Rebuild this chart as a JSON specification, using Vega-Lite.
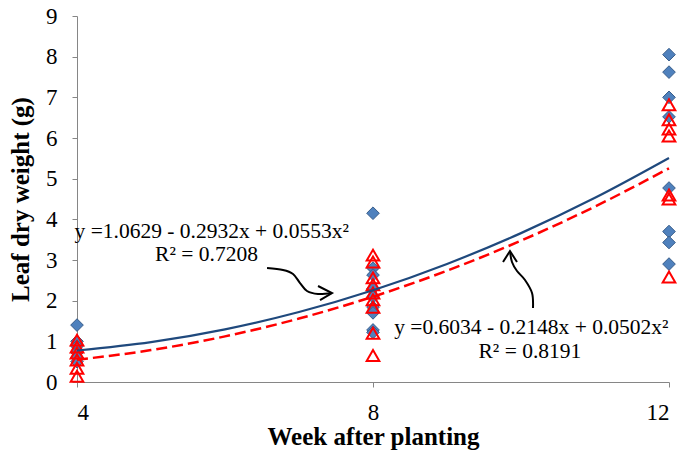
{
  "$schema": "https://vega.github.io/schema/vega-lite/v6.json",
  "width": 592,
  "height": 366,
  "autosize": "none",
  "padding": {"left": 77, "top": 16, "right": 9, "bottom": 73},
  "background": "white",
  "config": {"view": {"stroke": null}, "font": "Liberation Serif"},
  "datasets": {
    "pts": [
      {"week": 4, "w": 1.40, "s": "A"}, {"week": 4, "w": 1.0, "s": "A"}, {"week": 4, "w": 0.88, "s": "A"}, {"week": 4, "w": 0.72, "s": "A"}, {"week": 4, "w": 0.6, "s": "A"}, {"week": 4, "w": 0.5, "s": "A"},
      {"week": 8, "w": 4.15, "s": "A"}, {"week": 8, "w": 2.8, "s": "A"}, {"week": 8, "w": 2.63, "s": "A"}, {"week": 8, "w": 2.3, "s": "A"}, {"week": 8, "w": 2.09, "s": "A"}, {"week": 8, "w": 1.84, "s": "A"}, {"week": 8, "w": 1.7, "s": "A"}, {"week": 8, "w": 1.28, "s": "A"}, {"week": 8, "w": 1.22, "s": "A"},
      {"week": 12, "w": 8.05, "s": "A"}, {"week": 12, "w": 7.62, "s": "A"}, {"week": 12, "w": 7.0, "s": "A"}, {"week": 12, "w": 6.52, "s": "A"}, {"week": 12, "w": 4.77, "s": "A"}, {"week": 12, "w": 3.7, "s": "A"}, {"week": 12, "w": 3.43, "s": "A"}, {"week": 12, "w": 2.9, "s": "A"},
      {"week": 4, "w": 1.03, "s": "B"}, {"week": 4, "w": 0.86, "s": "B"}, {"week": 4, "w": 0.71, "s": "B"}, {"week": 4, "w": 0.54, "s": "B"}, {"week": 4, "w": 0.34, "s": "B"}, {"week": 4, "w": 0.14, "s": "B"},
      {"week": 8, "w": 3.12, "s": "B"}, {"week": 8, "w": 2.95, "s": "B"}, {"week": 8, "w": 2.56, "s": "B"}, {"week": 8, "w": 2.39, "s": "B"}, {"week": 8, "w": 2.19, "s": "B"}, {"week": 8, "w": 2.02, "s": "B"}, {"week": 8, "w": 1.84, "s": "B"}, {"week": 8, "w": 1.2, "s": "B"}, {"week": 8, "w": 0.65, "s": "B"},
      {"week": 12, "w": 6.82, "s": "B"}, {"week": 12, "w": 6.45, "s": "B"}, {"week": 12, "w": 6.22, "s": "B"}, {"week": 12, "w": 6.05, "s": "B"}, {"week": 12, "w": 4.6, "s": "B"}, {"week": 12, "w": 4.5, "s": "B"}, {"week": 12, "w": 2.58, "s": "B"}
    ],
    "fitA": [
      {"week": 4, "w": 0.7749}, {"week": 5, "w": 0.9794}, {"week": 6, "w": 1.2945}, {"week": 7, "w": 1.7202}, {"week": 8, "w": 2.2565},
      {"week": 9, "w": 2.9034}, {"week": 10, "w": 3.6609}, {"week": 11, "w": 4.529}, {"week": 12, "w": 5.5077}
    ],
    "fitB": [
      {"week": 4, "w": 0.5474}, {"week": 5, "w": 0.7844}, {"week": 6, "w": 1.1218}, {"week": 7, "w": 1.5596}, {"week": 8, "w": 2.0978},
      {"week": 9, "w": 2.7364}, {"week": 10, "w": 3.4754}, {"week": 11, "w": 4.3148}, {"week": 12, "w": 5.2546}
    ],
    "arrowBody": [
      {"a": "1", "o": 1, "week": 6.568, "w": 2.803}, {"a": "1", "o": 2, "week": 6.784, "w": 2.754}, {"a": "1", "o": 3, "week": 6.919, "w": 2.656},
      {"a": "1", "o": 4, "week": 7.014, "w": 2.434}, {"a": "1", "o": 5, "week": 7.108, "w": 2.238}, {"a": "1", "o": 6, "week": 7.257, "w": 2.164}, {"a": "1", "o": 7, "week": 7.446, "w": 2.188},
      {"a": "2", "o": 1, "week": 10.162, "w": 1.82}, {"a": "2", "o": 2, "week": 10.149, "w": 2.188}, {"a": "2", "o": 3, "week": 10.054, "w": 2.508},
      {"a": "2", "o": 4, "week": 9.946, "w": 2.729}, {"a": "2", "o": 5, "week": 9.878, "w": 2.951}, {"a": "2", "o": 6, "week": 9.851, "w": 3.221}
    ],
    "arrowHead": [
      {"a": "1", "o": 1, "week": 7.257, "w": 2.361}, {"a": "1", "o": 2, "week": 7.446, "w": 2.188}, {"a": "1", "o": 3, "week": 7.284, "w": 2.016},
      {"a": "2", "o": 1, "week": 9.757, "w": 2.951}, {"a": "2", "o": 2, "week": 9.851, "w": 3.221}, {"a": "2", "o": 3, "week": 9.946, "w": 2.951}
    ],
    "labels": [
      {"week": 5.82, "w": 3.70, "t": "y =1.0629 - 0.2932x + 0.0553x²"},
      {"week": 5.75, "w": 3.13, "t": "R² = 0.7208"},
      {"week": 10.14, "w": 1.32, "t": "y =0.6034 - 0.2148x + 0.0502x²"},
      {"week": 10.12, "w": 0.75, "t": "R² = 0.8191"}
    ]
  },
  "encoding": {
    "x": {
      "field": "week", "type": "quantitative",
      "scale": {"domain": [4, 12], "nice": false, "zero": false},
      "axis": {
        "title": "Week after planting", "values": [4, 8, 12], "grid": false,
        "domainColor": "#868686", "tickColor": "#868686", "tickSize": 5,
        "labelFont": "Liberation Serif", "labelFontSize": 23, "labelColor": "black", "labelPadding": 14,
        "titleFont": "Liberation Serif", "titleFontSize": 25, "titleFontWeight": "bold", "titleColor": "black", "titlePadding": 0
      }
    },
    "y": {
      "field": "w", "type": "quantitative",
      "scale": {"domain": [0, 9], "nice": false},
      "axis": {
        "title": "Leaf dry weight (g)", "values": [0, 1, 2, 3, 4, 5, 6, 7, 8, 9], "grid": false,
        "domainColor": "#868686", "tickColor": "#868686", "tickSize": 5,
        "labelFont": "Liberation Serif", "labelFontSize": 23, "labelColor": "black", "labelPadding": 15,
        "titleFont": "Liberation Serif", "titleFontSize": 25, "titleFontWeight": "bold", "titleColor": "black", "titlePadding": 12
      }
    }
  },
  "layer": [
    {
      "data": {"name": "pts"},
      "transform": [{"filter": "datum.s === 'A'"}],
      "mark": {"type": "point", "shape": "diamond", "filled": true, "size": 160, "fill": "#4F81BD", "stroke": "#385D8A", "strokeWidth": 1, "opacity": 1}
    },
    {
      "data": {"name": "pts"},
      "transform": [{"filter": "datum.s === 'B'"}],
      "mark": {"type": "point", "shape": "triangle-up", "filled": false, "size": 160, "stroke": "#FF0000", "strokeWidth": 2, "fill": "white", "fillOpacity": 0, "opacity": 1}
    },
    {
      "data": {"name": "fitA"},
      "mark": {"type": "line", "color": "#1F497D", "strokeWidth": 2.2, "interpolate": "monotone"}
    },
    {
      "data": {"name": "fitB"},
      "mark": {"type": "line", "color": "#FF0000", "strokeWidth": 2.5, "strokeDash": [11, 5], "interpolate": "monotone"}
    },
    {
      "data": {"name": "arrowBody"},
      "mark": {"type": "line", "color": "black", "strokeWidth": 2, "interpolate": "cardinal"},
      "encoding": {"detail": {"field": "a"}, "order": {"field": "o"}}
    },
    {
      "data": {"name": "arrowHead"},
      "mark": {"type": "line", "color": "black", "strokeWidth": 2},
      "encoding": {"detail": {"field": "a"}, "order": {"field": "o"}}
    },
    {
      "data": {"name": "labels"},
      "mark": {"type": "text", "font": "Liberation Serif", "fontSize": 21.5, "color": "black", "align": "center", "baseline": "middle"},
      "encoding": {"text": {"field": "t"}}
    }
  ]
}
